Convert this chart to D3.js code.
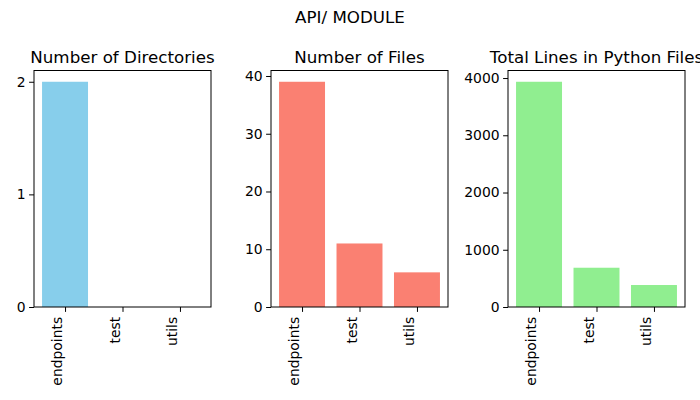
<!DOCTYPE html>
<html><head><meta charset="utf-8">
<script src="https://cdn.jsdelivr.net/npm/d3@7"></script>
<style>body{margin:0;background:#fff}svg{display:block}text{font-family:"DejaVu Sans",sans-serif}</style>
</head><body>
<svg id="c" width="700" height="400"></svg>
<script>
const categories = ["endpoints", "test", "utils"];
const directories = [2, 0, 0];
const files = [39, 11, 6];
const lines = [3935, 686, 384];
const titles = ["Number of Directories", "Number of Files", "Total Lines in Python Files"];
const yTicks = [[0, 1, 2], [0, 10, 20, 30, 40], [0, 1000, 2000, 3000, 4000]];
const colors = ["#87CEEB", "#FA8072", "#90EE90"];
const series = [directories, files, lines];

(function () {
const svg = d3.select("#c");
svg.append("text").attr("x", 350).attr("y", 23).attr("text-anchor", "middle")
  .attr("font-size", "16.7px").text("API/ MODULE");

const axLefts = [34, 271, 508];
const axW = 177, axTop = 70.5, axBottom = 307;

series.forEach((vals, i) => {
  const g = svg.append("g").attr("transform", `translate(${axLefts[i]},0)`);
  const x = d3.scaleLinear().domain([-0.54, 2.54]).range([0, axW]);
  const y = d3.scaleLinear().domain([0, d3.max(vals) * 1.05]).range([axBottom, axTop]);
  g.selectAll("rect.bar").data(vals).join("rect").attr("class", "bar")
    .attr("x", (d, j) => x(j - 0.4)).attr("width", x(0.8) - x(0))
    .attr("y", d => y(d)).attr("height", d => axBottom - y(d))
    .attr("fill", colors[i]);
  g.append("rect").attr("x", 0).attr("y", axTop).attr("width", axW).attr("height", axBottom - axTop)
    .attr("fill", "none").attr("stroke", "#000").attr("stroke-width", 1);
  const ya = d3.axisLeft(y).tickValues(yTicks[i]).tickSize(4.9).tickPadding(3.5).tickFormat(d3.format("d"));
  const yg = g.append("g").call(ya);
  yg.select(".domain").remove();
  yg.selectAll("text").attr("font-size", "13.9px").attr("fill", "#000").attr("font-family", "DejaVu Sans, sans-serif");
  yg.selectAll("line").attr("stroke", "#000");
  const xa = d3.axisBottom(x).tickValues([0, 1, 2]).tickSize(4.9).tickFormat(j => categories[j]);
  const xg = g.append("g").attr("transform", `translate(0,${axBottom})`).call(xa);
  xg.select(".domain").remove();
  xg.selectAll("line").attr("stroke", "#000");
  xg.selectAll("text").attr("font-size", "13.9px").attr("fill", "#000").attr("font-family", "DejaVu Sans, sans-serif")
    .attr("y", 0).attr("dy", "-0.24em")
    .attr("transform", "translate(0,9.8) rotate(-90)")
    .attr("text-anchor", "end");
  g.append("text").attr("x", axW / 2).attr("y", axTop - 8).attr("text-anchor", "middle")
    .attr("font-size", "16.7px").text(titles[i]);
});
})();
</script>
</body></html>
